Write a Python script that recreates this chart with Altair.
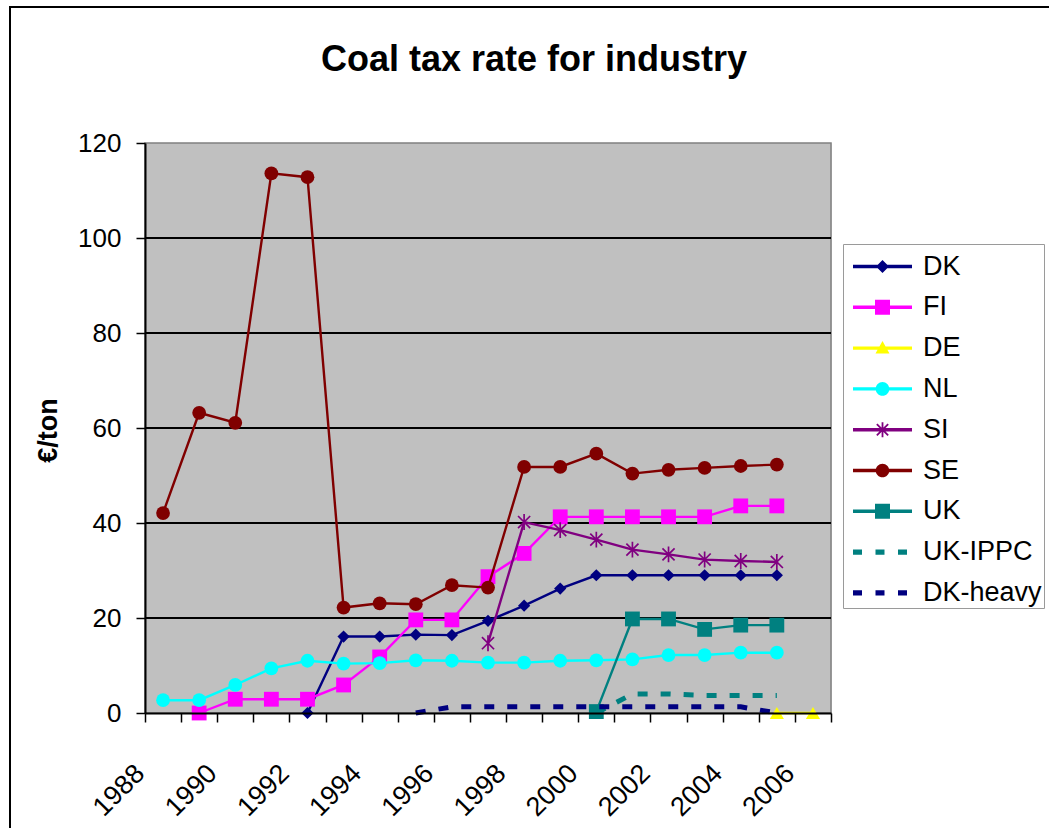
import math

import altair as alt
import pandas as pd

# ---- data -------------------------------------------------------------
years = [str(y) for y in range(1988, 2007)]

series_names = ["DK", "FI", "DE", "NL", "SI", "SE", "UK", "UK-IPPC", "DK-heavy"]
series_colors = ["#000080", "#FF00FF", "#FFFF00", "#00FFFF", "#800080",
                 "#800000", "#008080", "#008080", "#000080"]

dk_start = 1992
dk_values = [0, 16.1, 16.1, 16.5, 16.4, 19.4, 22.6, 26.2, 29.0, 29.0, 29.0, 29.0, 29.0, 29.0]

fi_start = 1989
fi_values = [0, 2.9, 2.9, 2.9, 5.9, 11.8, 19.6, 19.6, 28.7, 33.6, 41.3, 41.3, 41.3,
             41.3, 41.3, 43.6, 43.6]

de_start = 2005
de_values = [0, 0]

nl_start = 1988
nl_values = [2.7, 2.7, 5.9, 9.4, 11.0, 10.4, 10.5, 11.1, 11.0, 10.6, 10.6, 11.0, 11.1,
             11.3, 12.2, 12.2, 12.7, 12.7]

si_start = 1997
si_values = [14.7, 40.2, 38.5, 36.5, 34.4, 33.4, 32.3, 32.0, 31.8]

se_start = 1988
se_values = [42.1, 63.2, 61.1, 113.6, 112.8, 22.2, 23.1, 22.9, 26.9, 26.4, 51.8, 51.8,
             54.6, 50.4, 51.2, 51.6, 52.0, 52.3]

uk_start = 2000
uk_values = [0.3, 19.8, 19.8, 17.6, 18.5, 18.5]

ukippc_start = 2000
ukippc_values = [0, 4.0, 4.0, 3.7, 3.7, 3.7]

dkheavy_start = 1995
dkheavy_values = [0, 1.3, 1.3, 1.3, 1.3, 1.3, 1.3, 1.3, 1.3, 1.3, 0]

y_ticks = [0, 20, 40, 60, 80, 100, 120]
grid_values = [20, 40, 60, 80, 100]

series_data = [
    ("DK", dk_start, dk_values),
    ("FI", fi_start, fi_values),
    ("DE", de_start, de_values),
    ("NL", nl_start, nl_values),
    ("SI", si_start, si_values),
    ("SE", se_start, se_values),
    ("UK", uk_start, uk_values),
    ("UK-IPPC", ukippc_start, ukippc_values),
    ("DK-heavy", dkheavy_start, dkheavy_values),
]

rows = []
for name, start, vals in series_data:
    for i, v in enumerate(vals):
        rows.append({"year": str(start + i), "series": name, "value": v})
df = pd.DataFrame(rows)

color_of = dict(zip(series_names, series_colors))

# ---- marker styles ----------------------------------------------------
ASTERISK = "M-0.8,-0.8L0.8,0.8M-0.8,0.8L0.8,-0.8M0,-1.05L0,1.05"
marker_style = {
    "DK": dict(shape="diamond", size=150, filled=True),
    "FI": dict(shape="square", size=220, filled=True),
    "DE": dict(shape="triangle-up", size=200, filled=True),
    "NL": dict(shape="circle", size=190, filled=True),
    "SI": dict(shape=ASTERISK, size=230, filled=False, strokeWidth=1.7),
    "SE": dict(shape="circle", size=190, filled=True),
    "UK": dict(shape="square", size=220, filled=True),
}
dashed = {"UK-IPPC", "DK-heavy"}

# ---- legend symbols: line + marker drawn as one filled path ------------
LEG_UNIT = 20.4                       # pixels per path unit
LEG_SIZE = (2 * LEG_UNIT) ** 2


def _u(v):
    return f"{v / LEG_UNIT:.4f}"


def poly(points):
    return "M" + "L".join(f"{_u(x)},{_u(y)}" for x, y in points) + "Z"


def bar(cx, cy, half_len, half_th, ang=0.0):
    a = math.radians(ang)
    c, s = math.cos(a), math.sin(a)
    corners = [(-half_len, -half_th), (half_len, -half_th),
               (half_len, half_th), (-half_len, half_th)]
    return poly([(cx + x * c - y * s, cy + x * s + y * c) for x, y in corners])


def circle(r):
    ru = _u(r)
    return f"M{ru},0A{ru},{ru} 0 1,1 -{ru},0A{ru},{ru} 0 1,1 {ru},0Z"


line_sym = bar(0, 0, 29.5, 1.7)
dash_sym = bar(-25, 0, 4.5, 2.6) + bar(-2.5, 0, 4.5, 2.6) + bar(20, 0, 4.5, 2.6)
legend_paths = {
    "DK": line_sym + poly([(0, -6.5), (6.5, 0), (0, 6.5), (-6.5, 0)]),
    "FI": line_sym + poly([(-7.5, -7.5), (7.5, -7.5), (7.5, 7.5), (-7.5, 7.5)]),
    "DE": line_sym + poly([(0, -7), (7, 5.5), (-7, 5.5)]),
    "NL": line_sym + circle(6.8),
    "SI": line_sym + bar(0, 0, 8, 0.9, 45) + bar(0, 0, 8, 0.9, -45) + bar(0, 0, 7.5, 0.9, 90),
    "SE": line_sym + circle(6.8),
    "UK": line_sym + poly([(-7.5, -7.5), (7.5, -7.5), (7.5, 7.5), (-7.5, 7.5)]),
    "UK-IPPC": dash_sym,
    "DK-heavy": dash_sym,
}

FONT = "Liberation Sans"

# ---- scales & axes ----------------------------------------------------
x_scale = alt.Scale(type="band", domain=years, paddingInner=0, paddingOuter=0)
y_scale = alt.Scale(domain=[0, 120], nice=False, zero=True)

x_enc = alt.X(
    "year:O",
    scale=x_scale,
    axis=alt.Axis(
        title=None,
        labelExpr="toNumber(datum.label) % 2 == 0 ? datum.label : ''",
        labelAngle=-45, labelAlign="right", labelBaseline="middle",
        labelFont=FONT, labelFontSize=27, labelColor="black",
        labelOffset=-23, labelPadding=47, labelOverlap=False, labelBound=False,
        tickBand="extent", tickSize=9, tickColor="black", tickWidth=1.5,
        domainColor="black", domainWidth=2, grid=False, zindex=1,
    ),
)
y_axis = alt.Axis(
    values=y_ticks, title="€/ton",
    titleFont=FONT, titleFontSize=27, titleFontWeight="bold", titleColor="black",
    titleAngle=270, titleAlign="center", titleBaseline="middle",
    titleX=-97, titleY=287,
    labelFont=FONT, labelFontSize=26, labelColor="black", labelPadding=15,
    tickSize=9, tickColor="black", tickWidth=1.5,
    domainColor="black", domainWidth=2, grid=False, zindex=1,
)
y_enc = alt.Y("value:Q", scale=y_scale, axis=y_axis)

# grey plotting area with its border
plot_bg = (
    alt.Chart(pd.DataFrame({"k": [0]}))
    .mark_rect(fill="#C0C0C0", stroke="#808080", strokeWidth=1.5)
    .encode(x=alt.value(0), x2=alt.value("width"), y=alt.value(0), y2=alt.value("height"))
)

# horizontal grid lines
grid = (
    alt.Chart(pd.DataFrame({"value": grid_values}))
    .mark_rule(color="black", strokeWidth=2)
    .encode(y=y_enc)
)

base = alt.Chart(df)
layers = []
for name in series_names:
    sub = base.transform_filter(alt.datum.series == name)
    if name in dashed:
        layers.append(
            sub.mark_line(color=color_of[name], strokeWidth=5, strokeDash=[10, 13],
                          strokeCap="butt").encode(x=x_enc, y=y_enc)
        )
    else:
        layers.append(
            sub.mark_line(color=color_of[name], strokeWidth=2.4).encode(x=x_enc, y=y_enc)
        )
        st = marker_style[name]
        layers.append(
            sub.mark_point(color=color_of[name], opacity=1, **st).encode(x=x_enc, y=y_enc)
        )

legend_def = alt.Legend(
    title=None, orient="none", legendX=698, legendY=101,
    symbolSize=LEG_SIZE, symbolStrokeWidth=0, symbolOffset=17,
    labelFont=FONT, labelFontSize=27, labelColor="black", labelOffset=20, labelLimit=400,
    rowPadding=6.8, padding=2, strokeColor="#9a9a9a", fillColor="white", cornerRadius=0,
)
legend_layer = (
    alt.Chart(df)
    .transform_filter("false")
    .mark_point(filled=True, size=LEG_SIZE, opacity=1)
    .encode(
        color=alt.Color("series:N",
                        scale=alt.Scale(domain=series_names, range=series_colors),
                        legend=legend_def),
        shape=alt.Shape("series:N",
                        scale=alt.Scale(domain=series_names,
                                        range=[legend_paths[n] for n in series_names]),
                        legend=legend_def),
    )
)

# outer chart frame
frame = (
    alt.Chart(pd.DataFrame({"k": [0]}))
    .mark_rect(fillOpacity=0, stroke="black", strokeWidth=2)
    .encode(x=alt.value(-135), x2=alt.value(930), y=alt.value(-136), y2=alt.value(710))
)

chart = (
    alt.layer(plot_bg, grid, frame, *layers, legend_layer)
    .properties(
        width=686, height=570,
        title=alt.TitleParams(
            "Coal tax rate for industry", font=FONT, fontSize=36, fontWeight="bold",
            color="black", anchor="middle", frame="group", dx=46, offset=-101,
            baseline="alphabetic",
        ),
        padding={"left": 145, "top": 143, "right": 218, "bottom": 115},
        autosize=alt.AutoSizeParams(type="none"),
    )
    .configure_view(stroke=None)
    .configure(background="white")
)

chart.save("out.html", embed_options={"renderer": "svg", "actions": False})
